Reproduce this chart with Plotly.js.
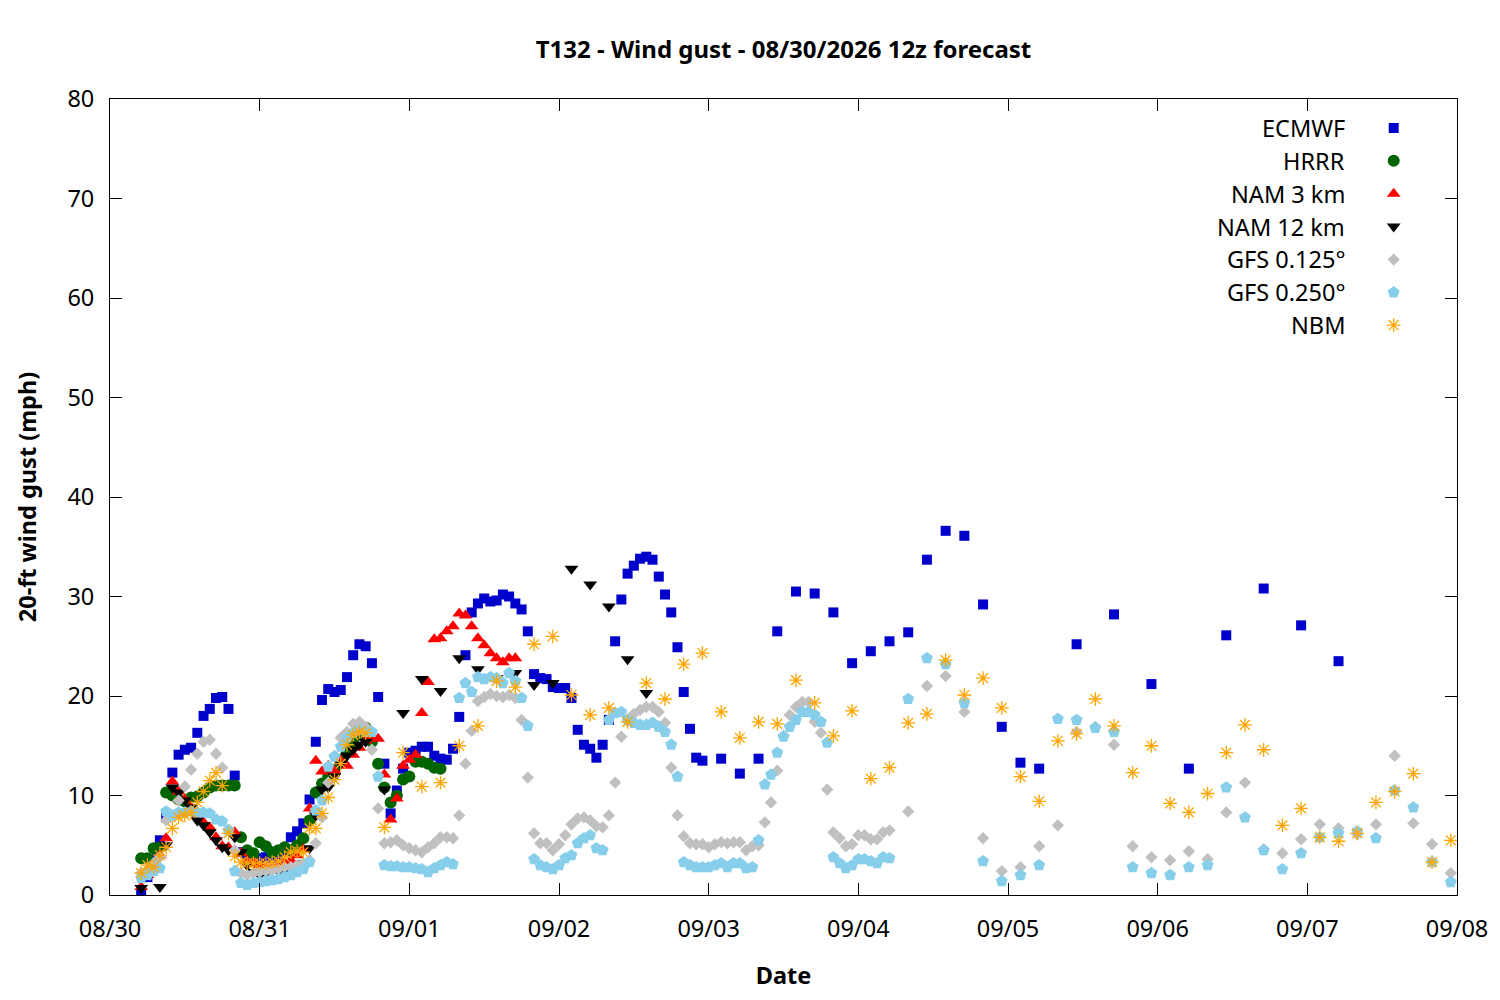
<!DOCTYPE html>
<html>
<head>
<meta charset="utf-8">
<script src="https://cdn.plot.ly/plotly-3.0.1.min.js"></script>
<style>
  body { margin: 0; background: white; }
  #chart { width: 1500px; height: 1000px; }
</style>
</head>
<body>
<div id="chart"></div>
<script>
// forecast hours counted from 08/30 00:00 local time
function span(a, b, step) {
    var out = []
    for (var h = a; h <= b; h += step) out.push(h)
    return out
}

var ecmwfHours = span(5, 95, 1).concat(span(98, 149, 3), span(155, 197, 6))
var ecmwfGust = [
    0.1, 1.8, 3.6, 5.5, 7.8, 12.3, 14.1, 14.6, 14.8, 16.3,
    18.0, 18.7, 19.8, 19.9, 18.7, 12.0, 4.3, 3.8, 3.7, 3.7,
    3.8, 3.7, 3.9, 4.4, 5.8, 6.4, 7.2, 9.6, 15.4, 19.6,
    20.7, 20.4, 20.6, 21.9, 24.1, 25.2, 25.0, 23.3, 19.9, 13.2,
    8.2, 10.5, 12.7, 14.3, 14.5, 14.9, 14.9, 14.0, 13.7, 13.6,
    14.7, 17.9, 24.1, 28.4, 29.3, 29.8, 29.5, 29.6, 30.2, 30.0,
    29.3, 28.7, 26.5, 22.2, 21.8, 21.7, 20.9, 20.8, 20.8, 19.8,
    16.6, 15.1, 14.7, 13.8, 15.1, 17.6, 25.5, 29.7, 32.3, 33.1,
    33.8, 34.0, 33.7, 32.0, 30.2, 28.4, 24.9, 20.4, 16.7, 13.8, 13.5,
    13.7, 12.2, 13.7, 26.5, 30.5, 30.3, 28.4, 23.3, 24.5, 25.5,
    26.4, 33.7, 36.6, 36.1, 29.2, 16.9, 13.3, 12.7,
    25.2, 28.2, 21.2, 12.7, 26.1, 30.8, 27.1, 23.5
]

var hrrrHours = span(5, 53, 1)
var hrrrGust = [
    3.7, 3.7, 4.7, 4.8, 10.3, 10.0, 9.6, 9.4, 9.8, 9.9,
    10.3, 10.8, 11.0, 11.0, 11.0, 11.0, 5.8, 4.5, 4.2, 5.3,
    4.9, 4.3, 4.5, 4.8, 4.5, 5.0, 5.7, 7.5, 10.3, 11.2,
    11.9, 12.6, 13.6, 14.4, 15.3, 16.1, 16.8, 15.4, 13.2, 10.8,
    9.3, 10.0, 11.6, 11.9, 13.4, 13.4, 13.2, 12.8, 12.7
]

var nam3Hours = span(5, 65, 1)
var nam3Gust = [
    0.8, 2.0, 3.0, 4.0, 5.7, 11.4, 10.4, 9.6, 8.8, 8.0,
    7.3, 6.8, 5.8, 4.9, 4.8, 6.3, 4.2, 3.4, 3.2, 3.0,
    2.8, 2.7, 2.9, 3.2, 3.5, 4.0, 4.6, 8.7, 13.5, 12.4,
    13.0, 12.5, 13.5, 13.0, 14.1, 14.8, 15.5, 15.9, 15.7, 12.1,
    7.6, 9.7, 13.0, 13.6, 14.1, 18.3, 21.4, 25.7, 25.8, 26.5,
    27.0, 28.3, 28.1, 27.0, 25.8, 25.1, 24.3, 23.8, 23.4, 23.8, 23.8
]

var nam12Hours = span(5, 41, 1).concat(span(44, 86, 3))
var nam12Gust = [
    0.7, 2.0, 2.6, 0.8, 5.0, 10.8, 10.3, 9.5, 8.8, 7.5,
    7.0, 6.3, 5.5, 4.8, 4.5, 5.8, 4.3, 3.0, 2.3, 2.0,
    2.2, 2.5, 2.4, 2.6, 2.5, 2.6, 3.2, 4.7, 8.0, 10.6,
    10.8, 11.9, 13.2, 14.0, 14.6, 15.1, 15.4,
    10.6, 18.3, 21.7, 20.5, 23.8, 22.7, 21.8, 22.3, 21.1, 21.3,
    32.8, 31.2, 29.0, 23.7, 20.3
]

var gfsHours = span(5, 125, 1).concat(span(128, 215, 3))
var gfs0125Gust = [
    2.2, 2.6, 3.2, 3.8, 7.5, 8.0, 9.5, 10.9, 12.6, 14.2,
    15.4, 15.6, 14.2, 12.8, 6.6, 4.5, 2.2, 2.0, 2.2, 2.3,
    2.4, 2.5, 2.6, 2.8, 2.8, 3.0, 3.2, 3.5, 5.2, 7.8,
    11.3, 14.0, 15.8, 16.4, 17.2, 17.4, 16.9, 14.6, 8.7, 5.2,
    5.3, 5.5, 5.0, 4.7, 4.5, 4.3, 4.8, 5.2, 5.8, 5.8,
    5.7, 8.0, 13.2, 16.5, 19.5, 19.9, 20.2, 20.0, 19.9, 20.1,
    19.8, 17.6, 11.8, 6.2, 5.2, 5.2, 4.5, 5.1, 6.0, 7.1,
    7.7, 7.8, 7.5, 6.9, 6.8, 8.0, 11.3, 15.9, 17.5, 18.2,
    18.6, 18.9, 18.9, 18.4, 17.3, 12.8, 8.0, 5.9, 5.2, 5.1,
    5.1, 4.8, 5.1, 5.3, 5.2, 5.3, 5.3, 4.5, 4.9, 5.0,
    7.3, 9.3, 12.5, 16.0, 18.1, 18.9, 19.4, 19.4, 17.4, 16.3,
    10.6, 6.3, 5.7, 4.9, 5.1, 6.0, 6.0, 5.6, 5.6, 6.3, 6.5,
    8.4, 21.0, 22.0, 18.4, 5.7, 2.4, 2.8, 4.9, 7.0, 16.4,
    16.9, 15.1, 4.9, 3.8, 3.5, 4.4, 3.6, 8.3, 11.3, 4.6,
    4.2, 5.6, 7.1, 6.7, 6.1, 7.1, 14.0, 7.2, 5.1, 2.2
]
var gfs0250Gust = [
    1.7, 2.0, 2.4, 2.7, 8.4, 8.0, 8.3, 8.3, 8.4, 8.3,
    8.3, 8.2, 7.6, 7.4, 6.5, 2.4, 1.2, 1.0, 1.2, 1.3,
    1.4, 1.5, 1.6, 1.8, 2.0, 2.3, 2.6, 3.3, 8.5, 9.5,
    12.9, 13.9, 14.9, 15.8, 16.3, 16.6, 16.4, 16.4, 11.9, 3.0,
    2.9, 2.9, 2.8, 2.8, 2.7, 2.6, 2.3, 2.7, 3.0, 3.3,
    3.1, 19.8, 21.3, 20.4, 21.9, 21.7, 21.9, 21.8, 21.3, 22.3,
    21.5, 19.8, 17.0, 3.6, 3.0, 2.8, 2.6, 3.0, 3.7, 4.0,
    5.2, 5.7, 6.0, 4.7, 4.5, 17.6, 18.3, 18.4, 17.6, 17.3,
    17.1, 17.1, 17.3, 16.9, 16.4, 15.1, 11.9, 3.3, 3.0, 2.8,
    2.8, 2.8, 3.0, 3.2, 2.8, 3.2, 3.2, 2.7, 2.8, 5.5,
    11.1, 12.1, 14.3, 15.9, 16.9, 17.6, 18.4, 18.4, 18.1, 17.4,
    15.3, 3.8, 3.2, 2.7, 3.0, 3.6, 3.6, 3.4, 3.2, 3.8, 3.7,
    19.7, 23.8, 23.2, 19.3, 3.4, 1.4, 2.0, 3.0, 17.7, 17.6,
    16.8, 16.4, 2.8, 2.2, 2.0, 2.8, 3.0, 10.8, 7.8, 4.5,
    2.6, 4.2, 5.8, 6.2, 6.4, 5.7, 10.5, 8.8, 3.3, 1.3
]

var nbmHours = span(5, 41, 1).concat(span(44, 215, 3))
var nbmGust = [
    2.2, 3.0, 2.8, 4.0, 4.8, 6.7, 7.8, 8.0, 8.3, 9.3,
    10.4, 11.5, 12.3, 11.0, 6.2, 3.9, 3.3, 3.2, 3.2, 3.2,
    3.2, 3.3, 3.4, 3.8, 4.3, 4.4, 4.3, 6.7, 6.7, 8.2,
    9.8, 11.6, 13.2, 15.1, 16.1, 16.4, 16.3,
    6.8, 14.3, 10.9, 11.3, 15.0, 17.0, 21.5, 20.9, 25.2, 26.0,
    20.1, 18.1, 18.8, 17.4, 21.3, 19.7, 23.2, 24.3, 18.4, 15.8,
    17.4, 17.2, 21.6, 19.3, 16.0, 18.5, 11.7, 12.8, 17.3, 18.2,
    23.6, 20.1, 21.8, 18.8, 11.9, 9.4, 15.5, 16.2, 19.7, 17.0,
    12.3, 15.0, 9.2, 8.3, 10.2, 14.3, 17.1, 14.6, 7.0, 8.7,
    5.8, 5.4, 6.2, 9.3, 10.4, 12.2, 3.3, 5.5
]

var modelNames = ["ECMWF", "HRRR", "NAM 3 km", "NAM 12 km", "GFS 0.125°", "GFS 0.250°", "NBM"]

var FONT = "Noto Sans, Open Sans, DejaVu Sans, sans-serif"
var DAY0 = Date.UTC(2026, 7, 30)

function stamp(h) {
    return new Date(DAY0 + h * 3600000).toISOString().slice(0, 16).replace("T", " ")
}

var series = [
    {hours: ecmwfHours, gust: ecmwfGust, color: "#0000cd", symbol: "square", size: 10},
    {hours: hrrrHours, gust: hrrrGust, color: "#006400", symbol: "circle", size: 12},
    {hours: nam3Hours, gust: nam3Gust, color: "#ff0000", symbol: "triangle-up", size: 12},
    {hours: nam12Hours, gust: nam12Gust, color: "#000000", symbol: "triangle-down", size: 12},
    {hours: gfsHours, gust: gfs0125Gust, color: "#c0c0c0", symbol: "diamond", size: 9.5},
    {hours: gfsHours, gust: gfs0250Gust, color: "#87ceeb", symbol: "pentagon", size: 12.5},
    {hours: nbmHours, gust: nbmGust, color: "#ffa500", symbol: "asterisk-open", size: 11.5}
]

function markerFor(s) {
    if (s.symbol == "asterisk-open") {
        return {symbol: s.symbol, size: s.size, color: s.color, line: {color: s.color, width: 1.3}}
    }
    return {symbol: s.symbol, size: s.size, color: s.color, line: {width: 0}}
}

var data = []
var annotations = []
// legend rows sit top right inside the plot, text on the left of the key
var keyX = 0.953, textX = 0.9185, rowTop = 0.9636, rowStep = 0.0413

for (i = 0; i < series.length; i++) {
    s = series[i]
    data.push({
        type: "scatter",
        mode: "markers",
        name: modelNames[i],
        x: s.hours.map(stamp),
        y: s.gust,
        marker: markerFor(s),
        showlegend: false,
        hoverinfo: "x+y+name"
    })
}
for (i = 0; i < series.length; i++) {
    s = series[i]
    data.push({
        type: "scatter",
        mode: "markers",
        x: [keyX],
        y: [rowTop - i * rowStep],
        xaxis: "x2",
        yaxis: "y2",
        marker: markerFor(s),
        showlegend: false,
        hoverinfo: "skip"
    })
    annotations.push({
        xref: "paper", yref: "paper",
        x: textX, y: rowTop - i * rowStep,
        xanchor: "right", yanchor: "middle",
        text: modelNames[i],
        showarrow: false,
        font: {family: FONT, size: 23.5, color: "black"}
    })
}

var axisStyle = {
    showline: true,
    linecolor: "black",
    linewidth: 1,
    mirror: "ticks",
    ticks: "inside",
    ticklen: 12,
    tickcolor: "black",
    showgrid: false,
    zeroline: false,
    tickfont: {family: FONT, size: 23.5, color: "black"}
}

var layout = {
    width: 1500,
    height: 1000,
    margin: {l: 110, r: 43, t: 99, b: 105},
    paper_bgcolor: "white",
    plot_bgcolor: "white",
    showlegend: false,
    title: {
        text: "<b>T132 - Wind gust - 08/30/2026 12z forecast</b>",
        font: {family: FONT, size: 24, color: "black"},
        x: 0.5, xref: "paper",
        y: 0.95, yanchor: "middle"
    },
    xaxis: Object.assign({}, axisStyle, {
        type: "date",
        range: ["2026-08-30 00:00", "2026-09-08 00:00"],
        tick0: "2026-08-30",
        dtick: 86400000,
        tickformat: "%m/%d",
        ticklabelstandoff: 13,
        title: {text: "<b>Date</b>", font: {family: FONT, size: 23.5, color: "black"}, standoff: 24}
    }),
    yaxis: Object.assign({}, axisStyle, {
        range: [0, 80],
        dtick: 10,
        ticklabelstandoff: 10,
        title: {text: "<b>20-ft wind gust (mph)</b>", font: {family: FONT, size: 23.5, color: "black"}, standoff: 24}
    }),
    xaxis2: {overlaying: "x", anchor: "y2", range: [0, 1], visible: false, fixedrange: true},
    yaxis2: {overlaying: "y", anchor: "x2", range: [0, 1], visible: false, fixedrange: true},
    annotations: annotations
}

Plotly.newPlot("chart", data, layout, {displayModeBar: false, responsive: false})
</script>
</body>
</html>
